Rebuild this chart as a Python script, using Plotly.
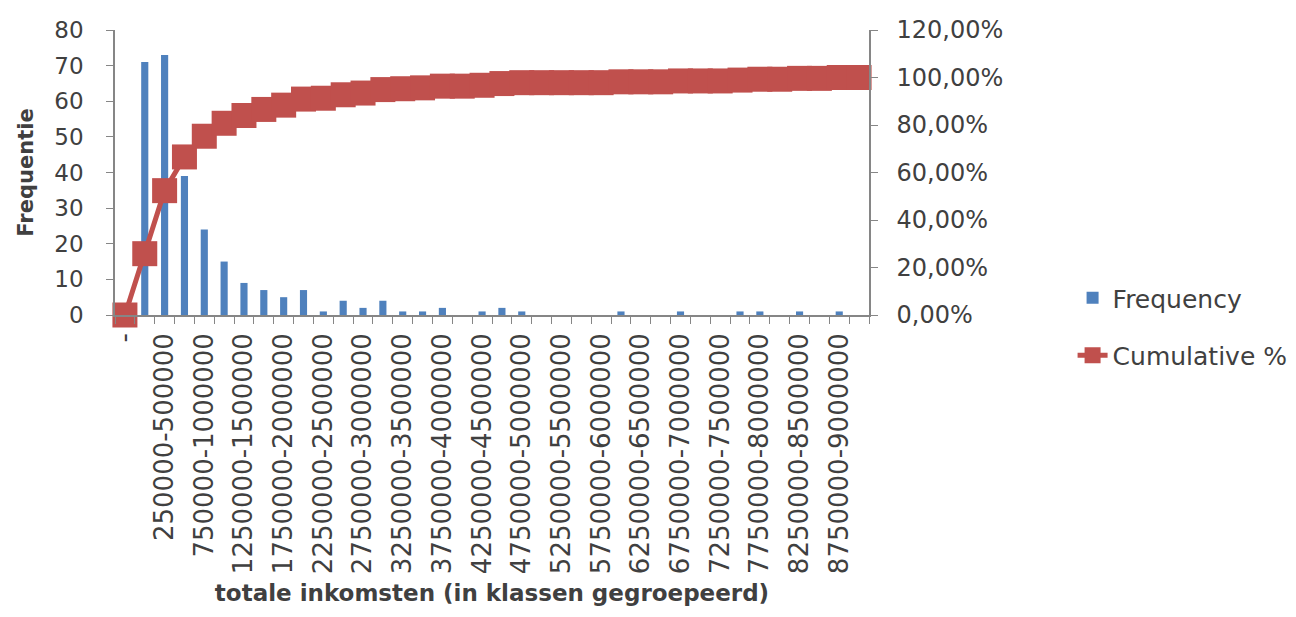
import plotly.graph_objects as go

categories = ["-", "0-250000"] + [f"{a}-{a + 250000}" for a in range(250000, 9000000, 250000)] + ["More"]

frequency = [0, 71, 73, 39, 24, 15, 9, 7, 5, 7,
             1, 4, 2, 4, 1, 1, 2, 0, 1, 2,
             1, 0, 0, 0, 0, 1, 0, 0, 1, 0,
             0, 1, 1, 0, 1, 0, 1, 0]

cumulative_pct = [0.0000, 0.2582, 0.5236, 0.6655, 0.7527, 0.8073, 0.8400, 0.8655, 0.8836, 0.9091,
                  0.9127, 0.9273, 0.9345, 0.9491, 0.9527, 0.9564, 0.9636, 0.9636, 0.9673, 0.9745,
                  0.9782, 0.9782, 0.9782, 0.9782, 0.9782, 0.9818, 0.9818, 0.9818, 0.9855, 0.9855,
                  0.9855, 0.9891, 0.9927, 0.9927, 0.9964, 0.9964, 1.0000, 1.0000]

tick_text = [c if i % 2 == 0 else "" for i, c in enumerate(categories)]

FONT = "DejaVu Sans"
TXT = "#404040"
AX = "#868686"

fig = go.Figure()
fig.add_trace(go.Bar(
    x=categories, y=frequency, name="Frequency",
    marker=dict(color="#4F81BD", line=dict(width=0)),
    legendgroup="a",
))
fig.add_trace(go.Scatter(
    x=categories, y=cumulative_pct, name="Cumulative %", yaxis="y2",
    mode="lines+markers",
    line=dict(color="#C0504D", width=5),
    marker=dict(symbol="square", size=25, color="#C0504D"),
    cliponaxis=False,
    legendgroup="b",
))

fig.update_layout(
    width=1296, height=617,
    margin=dict(l=107, r=435, t=22, b=310),
    paper_bgcolor="white", plot_bgcolor="white",
    separators=",.",
    bargap=0.64,
    font=dict(family=FONT, size=23, color=TXT),
    showlegend=True,
    legend=dict(x=1.27, y=0.14, xanchor="left", yanchor="top",
                font=dict(size=25, color=TXT), tracegroupgap=22,
                bgcolor="rgba(0,0,0,0)"),
    xaxis=dict(
        type="category", tickvals=categories, ticktext=tick_text,
        tickangle=-90, tickson="boundaries", ticks="outside", ticklen=7,
        tickcolor=AX, linecolor=AX, linewidth=1.5, showline=True, showgrid=False,
        tickfont=dict(size=26, color=TXT), ticklabelstandoff=6,
        title=dict(text="<b>totale inkomsten (in klassen gegroepeerd)</b>",
                   font=dict(size=23, color=TXT), standoff=12),
        range=[-0.5, len(categories) - 0.5], automargin=False,
    ),
    yaxis=dict(
        range=[0, 80], dtick=10, ticks="outside", ticklen=7, tickcolor=AX,
        linecolor=AX, linewidth=1.5, showline=True, showgrid=False, zeroline=False,
        tickfont=dict(size=23, color=TXT), ticklabelstandoff=18,
        title=dict(text="<b>Frequentie</b>", font=dict(size=21, color=TXT)),
        automargin=False,
    ),
    yaxis2=dict(
        overlaying="y", side="right", range=[0, 1.2], dtick=0.2, tickformat=".2%",
        ticks="outside", ticklen=7, tickcolor=AX, linecolor=AX, linewidth=1.5,
        showline=True, showgrid=False, zeroline=False,
        tickfont=dict(size=24, color=TXT), ticklabelstandoff=14,
        automargin=False,
    ),
)

fig.write_html("out.html")
